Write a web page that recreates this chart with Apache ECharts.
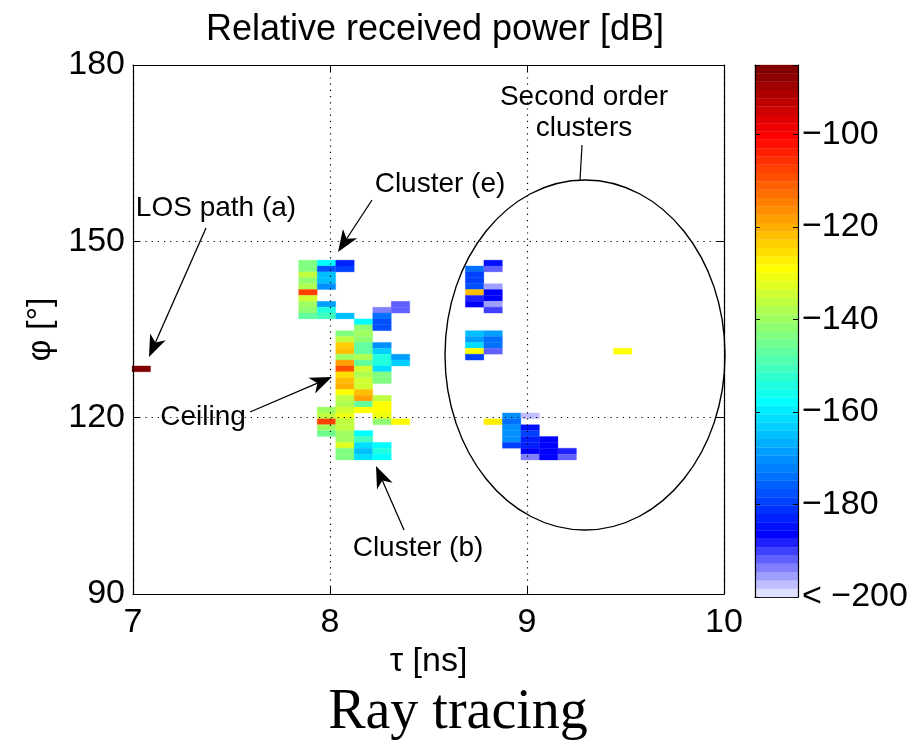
<!DOCTYPE html>
<html>
<head>
<meta charset="utf-8">
<script src="https://cdn.jsdelivr.net/npm/echarts@6/dist/echarts.min.js"></script>
<style>
html,body{margin:0;padding:0;background:#fff;}
#chart{width:917px;height:744px;}
</style>
</head>
<body>
<div id="chart"></div>
<script>
// ---------------- data ----------------
// each cell: [tau (ns, bin centre), phi (deg, bin centre), relative received power (dB)]
const losCells = [
  [7.042, 128.3, -86]
];
const clusterECells = [
  [7.888,146.3,-143.4],[7.982,146.3,-157.8],[8.076,146.3,-182.9],
  [7.888,145.3,-143.4],[7.982,145.3,-177.5],[8.076,145.3,-179.3],
  [7.888,144.3,-136.2],[7.982,144.3,-164.9],
  [7.888,143.3,-141.6],[7.982,143.3,-164.9],
  [7.888,142.3,-138.0],[7.982,142.3,-170.3],
  [7.888,141.3,-107.5],
  [7.888,140.3,-134.4],
  [7.888,139.3,-139.8],[7.982,139.3,-168.5],[8.358,139.3,-191.9],
  [7.888,138.3,-141.6],[7.982,138.3,-154.2],[8.264,138.3,-194.0],[8.358,138.3,-191.9],
  [7.888,137.3,-147.0],[7.982,137.3,-150.6],[8.076,137.3,-164.9],[8.264,137.3,-173.9],
  [8.170,136.3,-157.8],[8.264,136.3,-177.5],
  [8.170,135.3,-141.6],[8.264,135.3,-177.5]
];
const ceilingCells = [
  [8.076,134.3,-143.4],[8.170,134.3,-139.8],
  [8.076,133.3,-136.2],[8.170,133.3,-141.6],
  [8.076,132.3,-123.6],[8.170,132.3,-147.0],[8.264,132.3,-170.3],
  [8.076,131.3,-121.8],[8.170,131.3,-147.0],[8.264,131.3,-163.1],
  [8.076,130.3,-139.8],[8.170,130.3,-138.0],[8.264,130.3,-154.2],[8.358,130.3,-168.5],
  [8.076,129.3,-118.3],[8.170,129.3,-147.0],[8.264,129.3,-154.2],[8.358,129.3,-163.1],
  [8.076,128.3,-109.3],[8.170,128.3,-134.4],[8.264,128.3,-161.4],
  [8.076,127.3,-125.4],[8.170,127.3,-138.0],[8.264,127.3,-143.4],
  [8.076,126.3,-121.8],[8.170,126.3,-134.4],[8.264,126.3,-143.4],
  [8.076,125.3,-120.1],[8.170,125.3,-134.4],
  [8.076,124.3,-129.0],[8.170,124.3,-121.8],
  [8.076,123.3,-136.2],[8.170,123.3,-118.3],[8.264,123.3,-136.2],
  [8.076,122.3,-138.0],[8.170,122.3,-147.0],[8.264,122.3,-129.0]
];
const clusterBCells = [
  [7.982,121.3,-139.8],[8.076,121.3,-134.4],[8.170,121.3,-129.0],[8.264,121.3,-129.0],
  [7.982,120.3,-136.2],[8.076,120.3,-130.8],[8.264,120.3,-130.8],
  [7.982,119.3,-107.5],[8.076,119.3,-136.2],[8.264,119.3,-141.6],[8.358,119.3,-129.0],
  [7.982,118.3,-139.8],[8.076,118.3,-136.2],
  [7.982,117.3,-145.2],[8.076,117.3,-139.8],[8.170,117.3,-157.8],
  [8.076,116.3,-139.8],[8.170,116.3,-150.6],
  [8.076,115.3,-132.6],[8.170,115.3,-161.4],[8.264,115.3,-157.8],
  [8.076,114.3,-143.4],[8.170,114.3,-164.9],[8.264,114.3,-154.2],
  [8.076,113.3,-143.4],[8.170,113.3,-161.4],[8.264,113.3,-157.8]
];
const secondOrderCells = [
  [8.828,146.3,-184.7],
  [8.734,145.3,-173.9],[8.828,145.3,-191.9],
  [8.734,144.3,-179.3],
  [8.734,143.3,-179.3],
  [8.734,142.3,-177.5],[8.828,142.3,-195.5],
  [8.734,141.3,-121.8],[8.828,141.3,-186.5],
  [8.734,140.3,-188.3],[8.828,140.3,-186.5],
  [8.734,139.3,-186.5],[8.828,139.3,-195.5],
  [8.828,138.3,-190.1],
  [8.734,134.3,-164.9],[8.828,134.3,-168.5],
  [8.734,133.3,-168.5],[8.828,133.3,-173.9],
  [8.734,132.3,-161.4],[8.828,132.3,-173.9],
  [8.734,131.3,-129.0],[8.828,131.3,-191.9],
  [8.734,130.3,-179.3],
  [9.486,131.3,-129.0],
  [8.922,120.3,-170.3],[9.016,120.3,-197.3],
  [8.828,119.3,-127.2],[8.922,119.3,-173.9],
  [8.922,118.3,-170.3],[9.016,118.3,-184.7],
  [8.922,117.3,-170.3],[9.016,117.3,-179.3],
  [8.922,116.3,-170.3],[9.016,116.3,-182.9],[9.110,116.3,-186.5],
  [8.922,115.3,-179.3],[9.016,115.3,-182.9],[9.110,115.3,-186.5],
  [9.016,114.3,-186.5],[9.110,114.3,-186.5],[9.204,114.3,-188.3],
  [9.016,113.3,-194.0],[9.110,113.3,-186.5],[9.204,113.3,-191.9]
];
const xTicks = [7, 8, 9, 10];
const yTicks = [90, 120, 150, 180];
const cbarTicks = [-200, -180, -160, -140, -120, -100];
const cbarRange = [-200, -85];
const cbarLevels = 64;

const titleText = 'Relative received power [dB]';
const xName = '\u03c4 [ns]';
const yName = '\u03c6 [\u00b0]';
const captionText = 'Ray tracing';

// ---------------- colormap (jet, lowest levels faded to white) ----------------
function cmapColor(i) { // i = 1..64
  let r, g, b;
  if (i <= 7) { const w = (8 - i) / 8; r = w; g = w; b = 1; }
  else {
    r = i <= 24 ? 0 : i <= 40 ? (i - 24) / 16 : i <= 56 ? 1 : 1 - (i - 56) / 16;
    g = i <= 8 ? 0 : i <= 24 ? (i - 8) / 16 : i <= 40 ? 1 : i <= 56 ? 1 - (i - 40) / 16 : 0;
    b = i <= 8 ? 0.5 + i / 16 : i <= 24 ? 1 : i <= 40 ? 1 - (i - 24) / 16 : 0;
  }
  const h = v => Math.round(Math.max(0, Math.min(1, v)) * 255);
  return 'rgb(' + h(r) + ',' + h(g) + ',' + h(b) + ')';
}
const step = (cbarRange[1] - cbarRange[0]) / cbarLevels;
const pieces = [];
const cbarData = [];
for (let i = 0; i < cbarLevels; i++) {
  const lo = cbarRange[0] + i * step, hi = lo + step;
  pieces.push(i === cbarLevels - 1 ? { gte: lo, color: cmapColor(i + 1) }
                                   : i === 0 ? { lt: hi, color: cmapColor(1) }
                                   : { gte: lo, lt: hi, color: cmapColor(i + 1) });
  cbarData.push([lo, hi, i + 1]);
}

const allCells = [].concat(losCells, clusterECells, ceilingCells, clusterBCells, secondOrderCells);
const TAU_BIN = 0.094, PHI_BIN = 1.0;

const FONT = 'Liberation Sans, Arial, Helvetica, sans-serif';
const minus = v => (v < 0 ? '\u2212' : '') + Math.abs(v);

// ---------------- annotation helpers ----------------
function arrow(x1, y1, x2, y2) {
  const dx = x2 - x1, dy = y2 - y1, len = Math.hypot(dx, dy);
  const ux = dx / len, uy = dy / len, nx = -uy, ny = ux;
  const L = 22, W = 8.5;
  const bx = x2 - L * ux, by = y2 - L * uy;
  const mx = x2 - 0.72 * L * ux, my = y2 - 0.72 * L * uy;
  return [
    { type: 'line', z: 100, shape: { x1: x1, y1: y1, x2: mx, y2: my }, style: { stroke: '#000', lineWidth: 1.3 } },
    { type: 'polygon', z: 100, shape: { points: [[x2, y2], [bx + W * nx, by + W * ny], [mx, my], [bx - W * nx, by - W * ny]] }, style: { fill: '#000' } }
  ];
}
function label(text, cx, cy, size, family) {
  return { type: 'text', z: 100, x: cx, y: cy,
    style: { text: text, fill: '#000', font: size + 'px ' + (family || FONT), align: 'center', verticalAlign: 'middle' } };
}

const graphics = [].concat(
  label('LOS path (a)', 216, 208, 28),
  arrow(206, 228, 149, 357),
  label('Cluster (e)', 440, 184, 28),
  arrow(372, 200, 338, 252),
  label('Ceiling', 203, 417, 28),
  arrow(250, 412, 332, 377),
  label('Cluster (b)', 418, 548, 28),
  arrow(404, 530, 376, 466),
  label('Second order', 584, 97, 28),
  label('clusters', 584, 128, 28),
  [{ type: 'line', z: 100, shape: { x1: 582, y1: 145, x2: 580, y2: 180 }, style: { stroke: '#000', lineWidth: 1.2 } },
   { type: 'ellipse', z: 100, shape: { cx: 585, cy: 355, rx: 140, ry: 175 }, style: { fill: null, stroke: '#000', lineWidth: 1.4 } }],
  label(captionText, 458, 713, 56, 'Liberation Serif, Times New Roman, serif')
);

// ---------------- chart ----------------
const chart = echarts.init(document.getElementById('chart'), null, { renderer: 'canvas' });
const tickStyle = { show: true, inside: true, length: 7, lineStyle: { color: '#000', width: 1 } };
const axisLineStyle = { show: true, onZero: false, lineStyle: { color: '#000', width: 1.2 } };
const dotted = { show: true, lineStyle: { color: '#000', width: 1.2, type: [1.2, 5] } };

chart.setOption({
  animation: false,
  backgroundColor: '#fff',
  textStyle: { fontFamily: FONT },
  title: { text: titleText, left: 430, top: 7, textAlign: 'center',
    textStyle: { fontFamily: FONT, fontSize: 36, fontWeight: 'normal', color: '#000' } },
  grid: [
    { left: 133, top: 65, width: 591, height: 529, show: false },
    { left: 755, top: 65, width: 43, height: 532, show: false }
  ],
  xAxis: [
    { type: 'value', gridIndex: 0, min: xTicks[0], max: xTicks[xTicks.length - 1], interval: 1, position: 'bottom', z: 5,
      axisLine: axisLineStyle, axisTick: tickStyle, splitLine: dotted,
      axisLabel: { color: '#000', fontSize: 34, margin: 12, fontFamily: FONT },
      name: xName, nameLocation: 'middle', nameGap: 50, nameTextStyle: { color: '#000', fontSize: 34, fontFamily: FONT } },
    { type: 'value', gridIndex: 0, min: xTicks[0], max: xTicks[xTicks.length - 1], interval: 1, position: 'top', z: 5,
      axisLine: axisLineStyle, axisTick: tickStyle, splitLine: { show: false }, axisLabel: { show: false } },
    { type: 'value', gridIndex: 1, min: 0, max: 1, show: true, position: 'bottom',
      axisLine: axisLineStyle, axisTick: { show: false }, axisLabel: { show: false }, splitLine: { show: false } },
    { type: 'value', gridIndex: 1, min: 0, max: 1, show: true, position: 'top',
      axisLine: axisLineStyle, axisTick: { show: false }, axisLabel: { show: false }, splitLine: { show: false } }
  ],
  yAxis: [
    { type: 'value', gridIndex: 0, min: yTicks[0], max: yTicks[yTicks.length - 1], interval: 30, position: 'left', z: 5,
      axisLine: axisLineStyle, axisTick: tickStyle, splitLine: dotted,
      axisLabel: { color: '#000', fontSize: 34, margin: 8, fontFamily: FONT },
      name: yName, nameLocation: 'middle', nameGap: 74, nameRotate: 90, nameTextStyle: { color: '#000', fontSize: 34, fontFamily: FONT } },
    { type: 'value', gridIndex: 0, min: yTicks[0], max: yTicks[yTicks.length - 1], interval: 30, position: 'right', z: 5,
      axisLine: axisLineStyle, axisTick: tickStyle, splitLine: { show: false }, axisLabel: { show: false } },
    { type: 'value', gridIndex: 1, min: cbarRange[0], max: cbarRange[1], interval: 20, position: 'right', z: 5,
      axisLine: axisLineStyle, axisTick: { show: true, inside: true, length: 5, lineStyle: { color: '#000' } }, splitLine: { show: false },
      axisLabel: { color: '#000', fontSize: 34, margin: 4, fontFamily: FONT,
        formatter: v => cbarTicks.indexOf(v) < 0 ? '' : (v === cbarTicks[0] ? '< ' + minus(v) : minus(v)) } },
    { type: 'value', gridIndex: 1, min: cbarRange[0], max: cbarRange[1], interval: 20, position: 'left', z: 5,
      axisLine: axisLineStyle, axisTick: { show: true, inside: true, length: 5, lineStyle: { color: '#000' } }, splitLine: { show: false },
      axisLabel: { show: false } }
  ],
  visualMap: {
    type: 'piecewise', show: false, dimension: 2, seriesIndex: 0, pieces: pieces
  },
  series: [
    {
      type: 'custom', xAxisIndex: 0, yAxisIndex: 0, z: 2,
      data: allCells,
      renderItem: function (params, api) {
        const t = api.value(0), p = api.value(1);
        const a = api.coord([t - TAU_BIN / 2, p + PHI_BIN / 2]);
        const b = api.coord([t + TAU_BIN / 2, p - PHI_BIN / 2]);
        return { type: 'rect', shape: { x: a[0], y: a[1], width: b[0] - a[0], height: b[1] - a[1] },
          style: { fill: api.visual('color'), stroke: api.visual('color'), lineWidth: 0.3 } };
      }
    },
    {
      type: 'custom', xAxisIndex: 2, yAxisIndex: 2, z: 2,
      data: cbarData,
      renderItem: function (params, api) {
        const a = api.coord([0, api.value(1)]);
        const b = api.coord([1, api.value(0)]);
        const c = cmapColor(api.value(2));
        return { type: 'rect', shape: { x: a[0], y: a[1], width: b[0] - a[0], height: b[1] - a[1] },
          style: { fill: c, stroke: c, lineWidth: 0.3 } };
      }
    }
  ],
  graphic: graphics
});
</script>
</body>
</html>
